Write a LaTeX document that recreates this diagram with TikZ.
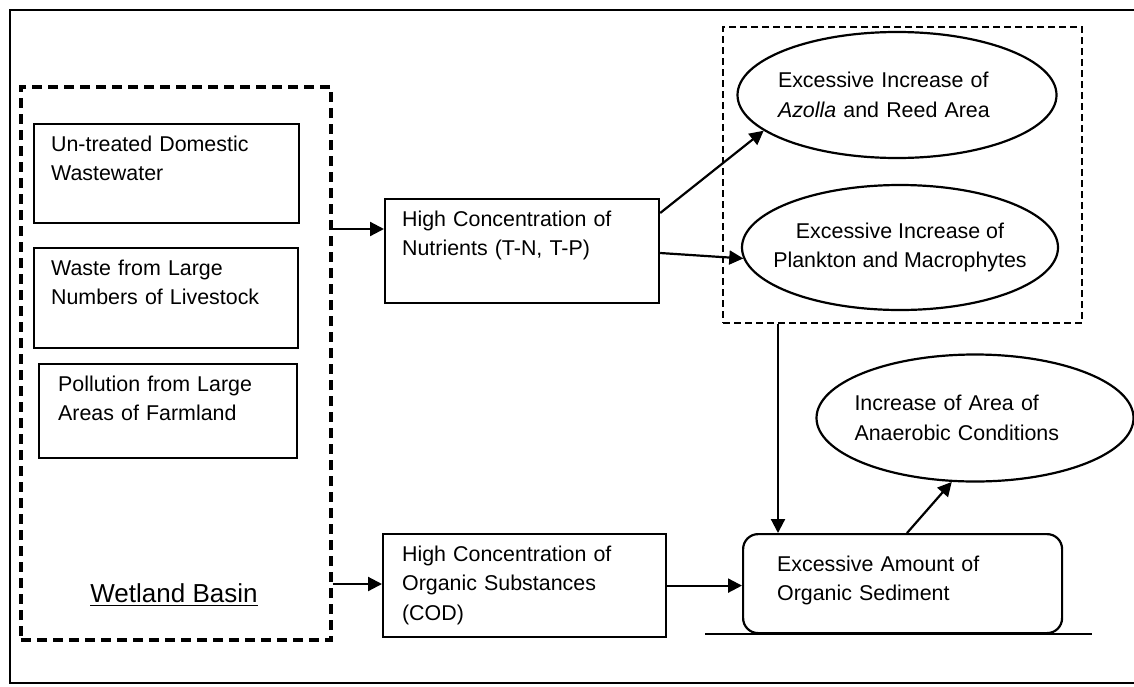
\documentclass[tikz,border=0pt]{standalone}
\usepackage{fontspec}
\setmainfont{Liberation Sans}
\usetikzlibrary{arrows.meta,positioning,shapes.geometric}
\newcommand{\lbl}{\fontsize{10.7}{14.75}\selectfont}
\tikzset{
    outer/.style={line width=0.8pt},
    basin/.style={rectangle, draw, line width=1.6pt, dash pattern=on 5pt off 3pt, minimum width=155pt, minimum height=276.5pt},
    grpbox/.style={rectangle, draw, line width=0.8pt, dash pattern=on 3.5pt off 2pt, minimum width=179.5pt, minimum height=148pt},
    src/.style={rectangle, draw, line width=1.1pt, anchor=north west, align=left, font=\lbl, inner xsep=8.5pt, inner ysep=5.5pt, text height=8pt},
    result/.style={src, rounded corners=7.5pt, inner xsep=17pt, inner ysep=10.5pt},
    effect/.style={ellipse, draw, line width=1.1pt, inner xsep=-8pt, inner ysep=0pt, font=\lbl},
    flow/.style={-{Triangle[length=7pt, width=7pt]}, line width=1.1pt},
}
\begin{document}
\begin{tikzpicture}[x=0.5pt, y=-0.5pt]
    \useasboundingbox (0,0) rectangle (1134,686);
    \draw[outer] (1134,10) -- (10,10) -- (10,683) -- (1134,683);

    % sources in the basin
    \node[basin] (basin) at (176,363.5) {};
    \node[src, text width=115.5pt, text depth=30.5pt] (dom) at (33,123) {Un-treated Domestic\\Wastewater};
    \node[src, text width=115pt, text depth=31pt, below=11.5pt of dom.south west, anchor=north west] (live) {Waste from Large\\Numbers of Livestock};
    \node[src, text width=110pt, text depth=28pt, inner xsep=9.5pt] (farm) at (38,363) {Pollution from Large\\Areas of Farmland};
    \node[font=\fontsize{13}{15}\selectfont] (basinlbl) at (174,595) {\underline{Wetland Basin}};

    % loads
    \node[src, text width=120pt, text depth=33pt] (nutr) at (384,198) {High Concentration of\\Nutrients (T-N, T-P)};
    \node[src, text width=122.5pt, text depth=32.5pt, inner xsep=9.5pt] (org) at (382,533) {High Concentration of\\Organic Substances\\(COD)};

    % effects
    \node[grpbox] (grp) at (902.5,175) {};
    \node[effect, minimum width=159.5pt, minimum height=63pt, text width=119pt, align=left] (azolla) at (897,95) {Excessive Increase of\\\textit{Azolla} and Reed Area};
    \node[effect, minimum width=158pt, minimum height=62.5pt, align=center] (plank) at (900,247.5) {Excessive Increase of\\Plankton and Macrophytes};
    \node[result, text width=125.5pt, text depth=20.5pt] (sed) at (742,533) {Excessive Amount of\\Organic Sediment};
    \node[effect, minimum width=158.5pt, minimum height=63.5pt, text width=120.5pt, align=left] (anaer) at (975,418) {Increase of Area of\\Anaerobic Conditions};

    \coordinate (nin) at ([yshift=-15.5pt]nutr.north west);
    \coordinate (oin) at ([yshift=-25.5pt]org.north west);
    \coordinate (sin) at ([xshift=18pt]sed.north west);
    \draw[flow] (basin.east |- nin) -- (nin);
    \draw[flow] (basin.east |- oin) -- (oin);
    \draw[flow] ([yshift=-7.5pt]nutr.north east) -- (azolla.195);
    \draw[flow] ([yshift=-27.5pt]nutr.north east) -- (plank.184);
    \draw[flow] (grp.south -| sin) -- (sin);
    \draw[flow] (org.east) -- (org.east -| sed.west);
    \draw[flow] ([xshift=82.5pt]sed.north west) -- (anaer.250);
    \draw[line width=1.1pt] ([xshift=-18.5pt]sed.south west) -- ([xshift=14.5pt]sed.south east);
\end{tikzpicture}
\end{document}
